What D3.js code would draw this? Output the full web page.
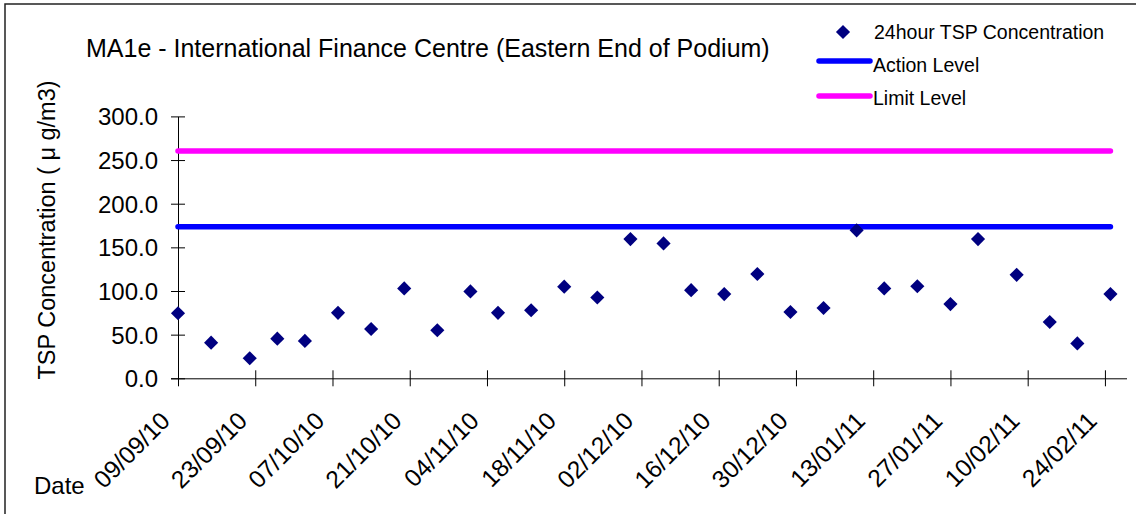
<!DOCTYPE html>
<html>
<head>
<meta charset="utf-8">
<script src="https://cdn.jsdelivr.net/npm/d3@7"></script>
<style>
  html, body { margin: 0; padding: 0; background: #fff; }
  svg { display: block; font-family: "Liberation Sans", Arial, sans-serif; }
</style>
</head>
<body>
<svg id="chart" width="1136" height="514"></svg>
<script>
const sampleDates = ["09/09/10","15/09/10","22/09/10","27/09/10","02/10/10","08/10/10","14/10/10","20/10/10","26/10/10","01/11/10",
  "06/11/10","12/11/10","18/11/10","24/11/10","30/11/10","06/12/10","11/12/10","17/12/10","23/12/10","29/12/10",
  "04/01/11","10/01/11","15/01/11","21/01/11","27/01/11","01/02/11","08/02/11","14/02/11","19/02/11","25/02/11"];
const tspValues = [74.5,40.8,23,45.4,42.8,75,56.5,103,55,99.5,
  75,78,105,92.5,159.5,154.5,101,96.5,119.5,76,
  80.5,169.5,103,105.5,85,159.5,118.5,64.5,40,96.5];
const actionLevel = [173.5];
const limitLevel = [260.5];
const yTicks = [0,50,100,150,200,250,300];
const xTickLabels = ["09/09/10","23/09/10","07/10/10","21/10/10","04/11/10","18/11/10","02/12/10","16/12/10","30/12/10","13/01/11","27/01/11","10/02/11","24/02/11"];
const xDomain = ["09/09/10","28/02/11"];

const parse = d3.timeParse("%d/%m/%y");
const svg = d3.select("#chart");
const FF = "Liberation Sans, Arial, sans-serif";

svg.append("rect").attr("x",5).attr("y",4).attr("width",1140).attr("height",530)
  .attr("fill","none").attr("stroke","#222").attr("stroke-width",1.5);

const x = d3.scaleTime().domain(xDomain.map(parse)).range([178,1127]);
const y = d3.scaleLinear().domain([0,300]).range([378.3,116.4]);

// title
svg.append("text").attr("x",86).attr("y",57).attr("font-size",25).attr("fill","#000")
  .text("MA1e - International Finance Centre (Eastern End of Podium)");

// y axis
const yAxis = svg.append("g").attr("transform","translate(178,0)")
  .call(d3.axisLeft(y).tickValues(yTicks).tickFormat(d3.format(".1f")).tickSizeInner(7).tickSizeOuter(0).tickPadding(13));
yAxis.selectAll(".tick line").attr("x2",7).attr("x1",-7).attr("stroke","#000");
yAxis.selectAll("text").attr("font-size",24).attr("font-family",FF).attr("fill","#000").attr("dy","0.35em");
yAxis.select(".domain").attr("stroke","#000");

// x axis
const xAxis = svg.append("g").attr("transform","translate(0,378.3)")
  .call(d3.axisBottom(x).tickValues(xTickLabels.map(parse)).tickFormat(d3.timeFormat("%d/%m/%y")).tickSizeOuter(0).tickSizeInner(8));
xAxis.selectAll(".tick line").attr("y1",-8).attr("y2",8).attr("stroke","#000");
xAxis.select(".domain").attr("stroke","#000").attr("d","M171,0.5H1127");
xAxis.selectAll("text").attr("font-size",24.5).attr("font-family",FF).attr("fill","#000")
  .attr("text-anchor","end").attr("dy",0).attr("y",0)
  .attr("transform","translate(-7,44) rotate(-45)");

// y axis title
svg.append("text").attr("transform","translate(55,230) rotate(-90)").attr("text-anchor","middle")
  .attr("font-size",23.5).attr("fill","#000").text("TSP Concentration ( μ g/m3)");
svg.append("text").attr("x",34).attr("y",494).attr("font-size",24).attr("fill","#000").text("Date");

// level lines
const first = parse(sampleDates[0]), last = parse(sampleDates[sampleDates.length-1]);
svg.append("line").attr("x1",x(first)).attr("x2",x(last)).attr("y1",y(limitLevel[0])).attr("y2",y(limitLevel[0]))
  .attr("stroke","#ff00ff").attr("stroke-width",5.5).attr("stroke-linecap","round");
svg.append("line").attr("x1",x(first)).attr("x2",x(last)).attr("y1",y(actionLevel[0])).attr("y2",y(actionLevel[0]))
  .attr("stroke","#0000ff").attr("stroke-width",5.5).attr("stroke-linecap","round");

// points
const sym = d3.symbol().type(d3.symbolSquare).size(100);
svg.append("g").selectAll("path").data(sampleDates.map((d,i)=>({d:parse(d),v:tspValues[i]}))).join("path")
  .attr("d",sym).attr("fill","#000080")
  .attr("transform",p=>`translate(${x(p.d)},${y(p.v)}) rotate(45)`);

// legend
const lg = svg.append("g").attr("font-family",FF);
lg.append("path").attr("d",sym).attr("fill","#000080").attr("transform","translate(843,32) rotate(45)");
lg.append("text").attr("x",874).attr("y",39).attr("font-size",19.5).text("24hour TSP Concentration");
lg.append("line").attr("x1",819).attr("x2",870).attr("y1",61).attr("y2",61).attr("stroke","#0000ff").attr("stroke-width",5.5).attr("stroke-linecap","round");
lg.append("text").attr("x",873).attr("y",72).attr("font-size",19.5).text("Action Level");
lg.append("line").attr("x1",819).attr("x2",870).attr("y1",96).attr("y2",96).attr("stroke","#ff00ff").attr("stroke-width",5.5).attr("stroke-linecap","round");
lg.append("text").attr("x",873).attr("y",105).attr("font-size",19.5).text("Limit Level");
</script>
</body>
</html>
